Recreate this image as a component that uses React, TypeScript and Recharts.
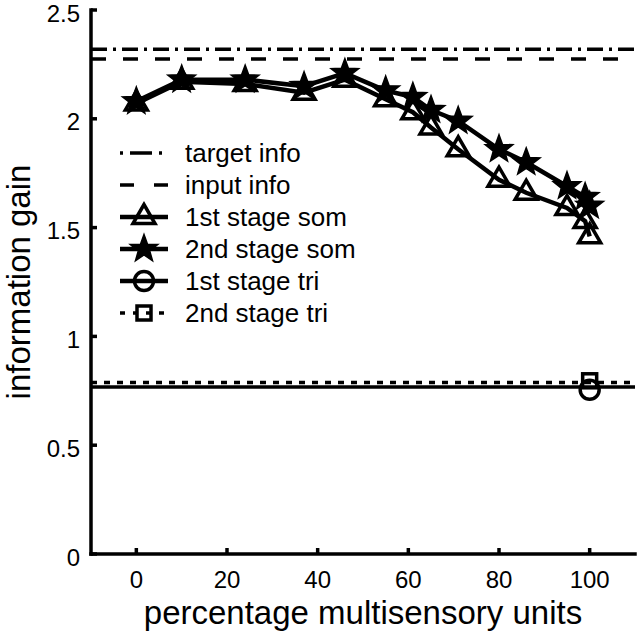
import React from 'react';
import { ComposedChart, Line, Scatter, XAxis, YAxis, ReferenceLine } from 'recharts';

const FONT = '"Liberation Sans", Arial, Helvetica, sans-serif';

const xTicks = [0, 20, 40, 60, 80, 100];
const yTicks = [0, 0.5, 1, 1.5, 2, 2.5];

// percentage multisensory units, shared by both som stages
const pctUnits = [0, 10, 24, 37, 46, 55, 61, 65, 71, 80, 86, 95, 99, 100];
const somStage1 = [2.07, 2.17, 2.16, 2.12, 2.18, 2.09, 2.03, 1.96, 1.86, 1.72, 1.66, 1.59, 1.53, 1.46];
const somStage2 = [2.08, 2.18, 2.18, 2.15, 2.21, 2.13, 2.1, 2.04, 1.99, 1.86, 1.8, 1.69, 1.64, 1.6];

const targetInfo = 2.32;
const inputInfo = 2.275;
const triLevel1 = 0.768;
const triLevel2 = 0.788;
const triPct = [100];
const triStage1 = [0.755];
const triStage2 = [0.796];

const legendItems = [
  { label: 'target info', kind: 'dashdot' },
  { label: 'input info', kind: 'dash' },
  { label: '1st stage som', kind: 'triangle' },
  { label: '2nd stage som', kind: 'star' },
  { label: '1st stage tri', kind: 'circle' },
  { label: '2nd stage tri', kind: 'square' },
];

const som1 = pctUnits.map((x, i) => ({ x, y: somStage1[i] }));
const som2 = pctUnits.map((x, i) => ({ x, y: somStage2[i] }));
const tri1 = triPct.map((x, i) => ({ x, y: triStage1[i] }));
const tri2 = triPct.map((x, i) => ({ x, y: triStage2[i] }));

const starPath = (cx: number, cy: number, R = 14.5, r = 6) => {
  let d = '';
  for (let i = 0; i < 10; i++) {
    const rad = i % 2 === 0 ? R : r;
    const a = -Math.PI / 2 + (i * Math.PI) / 5;
    d += (i === 0 ? 'M' : 'L') + (cx + rad * Math.cos(a)).toFixed(2) + ',' + (cy + rad * Math.sin(a)).toFixed(2);
  }
  return d + 'Z';
};

const Tri = ({ cx, cy }: any) => (
  <path d={`M${cx},${cy - 12.5}L${cx - 11},${cy + 6.5}L${cx + 11},${cy + 6.5}Z`} fill="none" stroke="#000" strokeWidth={3.5} strokeLinejoin="miter" />
);
const Star = ({ cx, cy }: any) => <path d={starPath(cx, cy)} fill="#000" stroke="#000" strokeWidth={1.5} />;
const Ring = ({ cx, cy }: any) => <circle cx={cx} cy={cy} r={9.5} fill="none" stroke="#000" strokeWidth={3.5} />;
const Box = ({ cx, cy }: any) => <rect x={cx - 7} y={cy - 7} width={14} height={14} fill="none" stroke="#000" strokeWidth={3.5} />;

const BottomTick = ({ x, y, payload }: any) => (
  <g>
    <line x1={x} y1={y} x2={x} y2={y - 6} stroke="#000" strokeWidth={3.5} />
    <text x={x} y={y + 34} textAnchor="middle" fontSize={24} fontFamily={FONT} fill="#000">{payload.value}</text>
  </g>
);
const TopTick = ({ x, y }: any) => <line x1={x} y1={y} x2={x} y2={y + 6} stroke="#000" strokeWidth={3.5} />;
const LeftTick = ({ x, y, payload }: any) => (
  <g>
    <line x1={x} y1={y} x2={x + 6} y2={y} stroke="#000" strokeWidth={3.5} />
    <text x={x - 11} y={y + 11.5} textAnchor="end" fontSize={24} fontFamily={FONT} fill="#000">{payload.value}</text>
  </g>
);
const RightTick = ({ x, y }: any) => <line x1={x} y1={y} x2={x - 6} y2={y} stroke="#000" strokeWidth={3.5} />;

const axisLine = { stroke: '#000', strokeWidth: 3.5, strokeLinecap: 'square' as const };

const Legend = () => {
  const x0 = 120;
  const x1 = 168;
  const mid = (x0 + x1) / 2;
  return (
    <svg width={640} height={635} style={{ position: 'absolute', left: 0, top: 0, pointerEvents: 'none' }}>
      {legendItems.map((it, i) => {
        const y = 153 + i * 32;
        let sample: React.ReactNode = null;
        if (it.kind === 'dashdot') sample = <line x1={x0} y1={y} x2={x1} y2={y} stroke="#000" strokeWidth={3.5} strokeDasharray="3 7 22 7 3 20" />;
        else if (it.kind === 'dash') sample = <line x1={x0} y1={y} x2={x1} y2={y} stroke="#000" strokeWidth={3.5} strokeDasharray="14 20" />;
        else if (it.kind === 'square') sample = <line x1={x0} y1={y} x2={x1} y2={y} stroke="#000" strokeWidth={3.5} strokeDasharray="5 8" />;
        else sample = <line x1={x0} y1={y} x2={x1} y2={y} stroke="#000" strokeWidth={4.5} />;
        let marker: React.ReactNode = null;
        if (it.kind === 'triangle') marker = <Tri cx={mid} cy={y} />;
        if (it.kind === 'star') marker = <Star cx={mid} cy={y} />;
        if (it.kind === 'circle') marker = <Ring cx={mid} cy={y} />;
        if (it.kind === 'square') marker = <Box cx={mid} cy={y} />;
        return (
          <g key={it.label}>
            {sample}
            {marker}
            <text x={185} y={y + 9} fontSize={26} fontFamily={FONT} fill="#000">{it.label}</text>
          </g>
        );
      })}
    </svg>
  );
};

export default function App() {
  return (
    <div style={{ position: 'absolute', left: 0, top: 0, width: 640, height: 635, background: '#fff' }}>
      <ComposedChart width={640} height={635} margin={{ top: 10, right: 5, bottom: 0, left: 0 }}>
        <XAxis
          xAxisId="b"
          type="number"
          dataKey="x"
          domain={[-10, 110]}
          ticks={xTicks}
          interval={0}
          height={81}
          tickSize={0}
          tickMargin={0}
          tickLine={false}
          axisLine={axisLine}
          tick={<BottomTick />}
          label={{
            content: (p: any) => (
              <text x={p.viewBox.x + p.viewBox.width / 2} y={p.viewBox.y + 70} textAnchor="middle" fontSize={33} fontFamily={FONT} fill="#000">
                percentage multisensory units
              </text>
            ),
          }}
        />
        <XAxis xAxisId="t" orientation="top" type="number" domain={[-10, 110]} ticks={xTicks} interval={0} height={0} tickSize={0} tickMargin={0} tickLine={false} axisLine={axisLine} tick={<TopTick />} />
        <YAxis
          yAxisId="l"
          type="number"
          dataKey="y"
          domain={[0, 2.5]}
          ticks={yTicks}
          interval={0}
          width={91}
          tickSize={0}
          tickMargin={0}
          tickLine={false}
          axisLine={axisLine}
          tick={<LeftTick />}
          label={{
            content: (p: any) => {
              const cy = p.viewBox.y + p.viewBox.height / 2;
              return (
                <text transform={`translate(30,${cy}) rotate(-90)`} textAnchor="middle" fontSize={33} fontFamily={FONT} fill="#000">
                  information gain
                </text>
              );
            },
          }}
        />
        <YAxis yAxisId="r" orientation="right" type="number" domain={[0, 2.5]} ticks={yTicks} interval={0} width={0} tickSize={0} tickMargin={0} tickLine={false} axisLine={axisLine} tick={<RightTick />} />

        <ReferenceLine xAxisId="b" yAxisId="l" y={targetInfo} stroke="#000" strokeWidth={3.5} strokeDasharray="16 6 3 6" />
        <ReferenceLine xAxisId="b" yAxisId="l" y={inputInfo} stroke="#000" strokeWidth={3.5} strokeDasharray="15 17" />
        <ReferenceLine xAxisId="b" yAxisId="l" y={triLevel1} stroke="#000" strokeWidth={3.5} />
        <ReferenceLine xAxisId="b" yAxisId="l" y={triLevel2} stroke="#000" strokeWidth={3.5} strokeDasharray="6 7" />

        <Line
          xAxisId="b"
          yAxisId="l"
          data={som1}
          dataKey="y"
          stroke="#000"
          strokeWidth={4.5}
          dot={(p: any) => <Tri key={`t-${p.index}`} cx={p.cx} cy={p.cy} />}
          activeDot={false}
          isAnimationActive={false}
        />
        <Line
          xAxisId="b"
          yAxisId="l"
          data={som2}
          dataKey="y"
          stroke="#000"
          strokeWidth={4.5}
          dot={(p: any) => <Star key={`s-${p.index}`} cx={p.cx} cy={p.cy} />}
          activeDot={false}
          isAnimationActive={false}
        />
        <Scatter xAxisId="b" yAxisId="l" data={tri1} dataKey="y" shape={(p: any) => <Ring cx={p.cx} cy={p.cy} />} isAnimationActive={false} />
        <Scatter xAxisId="b" yAxisId="l" data={tri2} dataKey="y" shape={(p: any) => <Box cx={p.cx} cy={p.cy} />} isAnimationActive={false} />
      </ComposedChart>
      <Legend />
    </div>
  );
}
